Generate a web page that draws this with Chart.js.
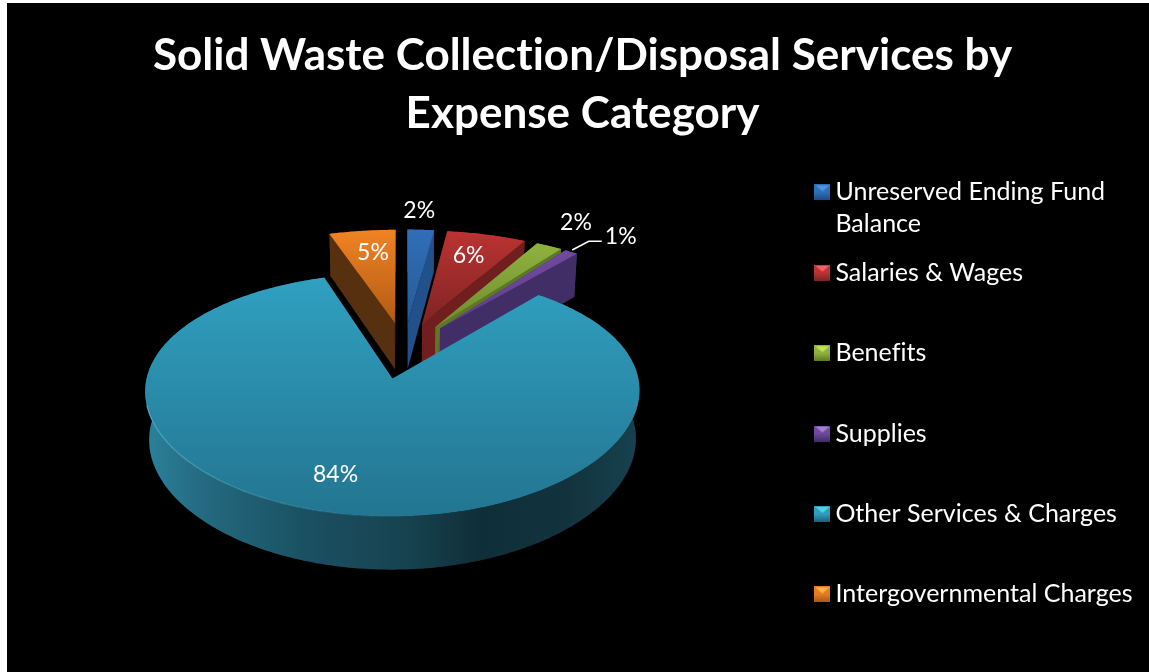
<!DOCTYPE html>
<html>
<head>
<meta charset="utf-8">
<script src="https://cdn.jsdelivr.net/npm/chart.js@4/dist/chart.umd.js"></script>
<style>
html,body{margin:0;padding:0;background:#fff;overflow:hidden;width:1149px;height:672px}
#wrap{position:absolute;left:7px;top:3px;width:1142px;height:669px;background:#000;overflow:hidden}
canvas{display:block}
</style>
</head>
<body>
<div id="wrap"><canvas id="c" width="1151" height="669"></canvas></div>
<script>
const titleLines = ['Solid Waste Collection/Disposal Services by', 'Expense Category'];
const categories = ['Unreserved Ending Fund Balance', 'Salaries & Wages', 'Benefits', 'Supplies', 'Other Services & Charges', 'Intergovernmental Charges'];
const legendLines = [['Unreserved Ending Fund', 'Balance'], ['Salaries & Wages', ''], ['Benefits', ''], ['Supplies', ''], ['Other Services & Charges', ''], ['Intergovernmental Charges', '']];
const values = [2, 6, 2, 1, 84, 5];

const faceTop = ['#2f6fb8', '#bb3332', '#8fb23e', '#70499f', '#30a0c1', '#f08324'];
const faceBottom = ['#285a96', '#7f2423', '#6f8c30', '#5f3f8a', '#237590', '#b25a14'];
const wallColor = ['#21508a', '#701f1e', '#5d7726', '#412e66', '#17434f', '#57300f'];
const markerTop = ['#4f94e0', '#ee6464', '#bfe35f', '#a47fd8', '#55cfee', '#ffb04f'];
const markerMid = ['#2f6fb8', '#bb3332', '#8fb23e', '#70499f', '#2f9fc0', '#e57d22'];
const markerLow = ['#1f4a80', '#7f2423', '#5d7726', '#412e66', '#1c6177', '#a85510'];

// placement of value labels: radial factor on the disc, then a nudge in px
const labelPlace = [[1.305, -5, 5], [0.782, -5, 3.5], [1.394, -13.5, 4.5], [1.29, 15, 4.5], [0.725, -20, 2.5], [0.78, 4, 3.5]];

const view = {cx: 397, cy: 347, scaleX: 1.016, tilt: 0.4746, perspX: 0.1, perspY: 0.13, depth: 47, lean: 0.015};
const legendBox = {left: 798.5, top: 160.5};

function makeMarker(i) {
  const s = 16, cv = document.createElement('canvas');
  cv.width = s; cv.height = s;
  const g = cv.getContext('2d');
  g.fillStyle = markerMid[i]; g.fillRect(0, 0, s, s);
  g.fillStyle = markerTop[i];
  g.beginPath(); g.moveTo(1, 1); g.lineTo(15, 1); g.lineTo(8, 7); g.closePath(); g.fill();
  const lg = g.createLinearGradient(0, 8, 0, 16);
  lg.addColorStop(0, markerMid[i]); lg.addColorStop(1, markerLow[i]);
  g.fillStyle = lg; g.fillRect(0, 8, s, 8);
  g.fillStyle = markerLow[i];
  g.fillRect(0, 15, s, 1);
  return cv;
}

const pie3d = {
  id: 'pie3d',
  afterLayout(chart) {
    const lg = chart.legend, w = lg.right - lg.left, h = lg.bottom - lg.top;
    lg.left = legendBox.left; lg.right = lg.left + w;
    lg.top = legendBox.top; lg.bottom = lg.top + h;
  },
  beforeDraw(chart) {
    chart.ctx.letterSpacing = '0.01px';
  },
  beforeDatasetDraw(chart, args) {
    const ctx = chart.ctx, meta = chart.getDatasetMeta(args.index);
    const first = meta.data[0];
    const R = first.outerRadius, cx = view.cx, cy = view.cy;
    const project = (u, v) => {
      const wx = 1 - view.perspX * v, wy = 1 - view.perspY * v;
      return {x: cx + R * view.scaleX * u / wx, y: cy + R * view.tilt * v / wy, w: wy};
    };
    const drop = p => ({x: cx + (p.x - cx) * (1 - view.lean), y: p.y + view.depth * Math.pow(1 / p.w, 0.7)});
    const poly = (pts, fill) => {
      ctx.beginPath();
      pts.forEach((p, k) => k ? ctx.lineTo(p.x, p.y) : ctx.moveTo(p.x, p.y));
      ctx.closePath(); ctx.fillStyle = fill; ctx.fill();
    };
    const slices = meta.data.map((el, i) => {
      const mid = (el.startAngle + el.endAngle) / 2, off = el.options.offset / R;
      const c = {u: off * Math.cos(mid), v: off * Math.sin(mid)};
      const n = Math.max(6, Math.ceil((el.endAngle - el.startAngle) * 90));
      const arc = [];
      for (let k = 0; k <= n; k++) {
        const a = el.startAngle + (el.endAngle - el.startAngle) * k / n;
        arc.push(project(c.u + Math.cos(a), c.v + Math.sin(a)));
      }
      return {i, mid, c, arc, apex: project(c.u, c.v)};
    }).sort((a, b) => a.c.v - b.c.v);

    slices.forEach(s => {
      const {i, arc, apex} = s;
      const big = values[i] > 50;
      let wall = wallColor[i];
      if (big) {
        wall = ctx.createLinearGradient(cx - 258, 0, cx + 236, 0);
        wall.addColorStop(0, '#2b819b');
        wall.addColorStop(0.12, '#24697f');
        wall.addColorStop(0.32, '#1a5162');
        wall.addColorStop(0.52, '#174351');
        wall.addColorStop(0.68, '#0f2e38');
        wall.addColorStop(0.85, '#12333e');
        wall.addColorStop(1, '#16424f');
      }
      poly(arc.concat(arc.map(drop).reverse()), wall);
      const a0 = arc[0], a1 = arc[arc.length - 1];
      if (!big) {
        poly([apex, a0, drop(a0), drop(apex)], wall);
        poly([apex, a1, drop(a1), drop(apex)], wall);
      }
      const ys = arc.map(p => p.y).concat(apex.y);
      const grad = ctx.createLinearGradient(0, Math.min(...ys), 0, Math.max(...ys));
      grad.addColorStop(0, faceTop[i]);
      grad.addColorStop(1, faceBottom[i]);
      poly([apex].concat(arc), grad);
      if (big) {
        const rim = arc.filter(p => p.y > cy + 55 && p.x < cx + 20);
        const sg = ctx.createLinearGradient(rim[0].x, 0, rim[rim.length - 1].x, 0);
        sg.addColorStop(0, 'rgba(90,190,220,0)');
        sg.addColorStop(1, 'rgba(90,190,220,0.7)');
        ctx.beginPath();
        rim.forEach((p, k) => k ? ctx.lineTo(p.x, p.y) : ctx.moveTo(p.x, p.y));
        ctx.strokeStyle = sg; ctx.lineWidth = 1.2; ctx.stroke();
      }
    });

    ctx.save();
    ctx.fillStyle = '#fff';
    ctx.font = '23px Lato';
    ctx.textAlign = 'center'; ctx.textBaseline = 'middle';
    slices.forEach(s => {
      const [r, dx, dy] = labelPlace[s.i];
      const p = project(s.c.u + r * Math.cos(s.mid), s.c.v + r * Math.sin(s.mid));
      const lx = p.x + dx, ly = p.y;
      ctx.fillText(values[s.i] + '%', lx, ly + dy);
      if (values[s.i] === 1) {
        const q = project(s.c.u + Math.cos(s.mid), s.c.v + Math.sin(s.mid));
        ctx.beginPath();
        ctx.moveTo(q.x + 1, q.y - 2);
        ctx.lineTo(lx - 32, ly + 9);
        ctx.lineTo(lx - 19, ly + 9);
        ctx.strokeStyle = '#fff'; ctx.lineWidth = 1.6; ctx.stroke();
      }
    });
    ctx.restore();
    return false;
  }
};

new Chart(document.getElementById('c'), {
  type: 'pie',
  data: {
    labels: categories,
    datasets: [{
      data: values,
      backgroundColor: faceTop,
      borderWidth: 0,
      offset: 59,
      radius: 236
    }]
  },
  options: {
    responsive: false,
    animation: false,
    devicePixelRatio: 1,
    plugins: {
      tooltip: {enabled: false},
      title: {
        display: true,
        text: titleLines,
        color: '#fff',
        font: {family: 'Lato', weight: 'bold', size: 44, lineHeight: 58 / 44},
        padding: {top: 24, bottom: 0}
      },
      legend: {
        position: 'right',
        align: 'start',
        labels: {
          color: '#fff',
          font: {family: 'Lato', size: 25, lineHeight: 32 / 25},
          usePointStyle: true,
          pointStyleWidth: 1,
          padding: 16.4,
          generateLabels() {
            return legendLines.map((text, i) => ({
              text, index: i, fontColor: '#fff', hidden: false,
              pointStyle: makeMarker(i), fillStyle: markerMid[i], strokeStyle: markerMid[i], lineWidth: 0
            }));
          }
        }
      }
    }
  },
  plugins: [pie3d]
});
</script>
</body>
</html>
